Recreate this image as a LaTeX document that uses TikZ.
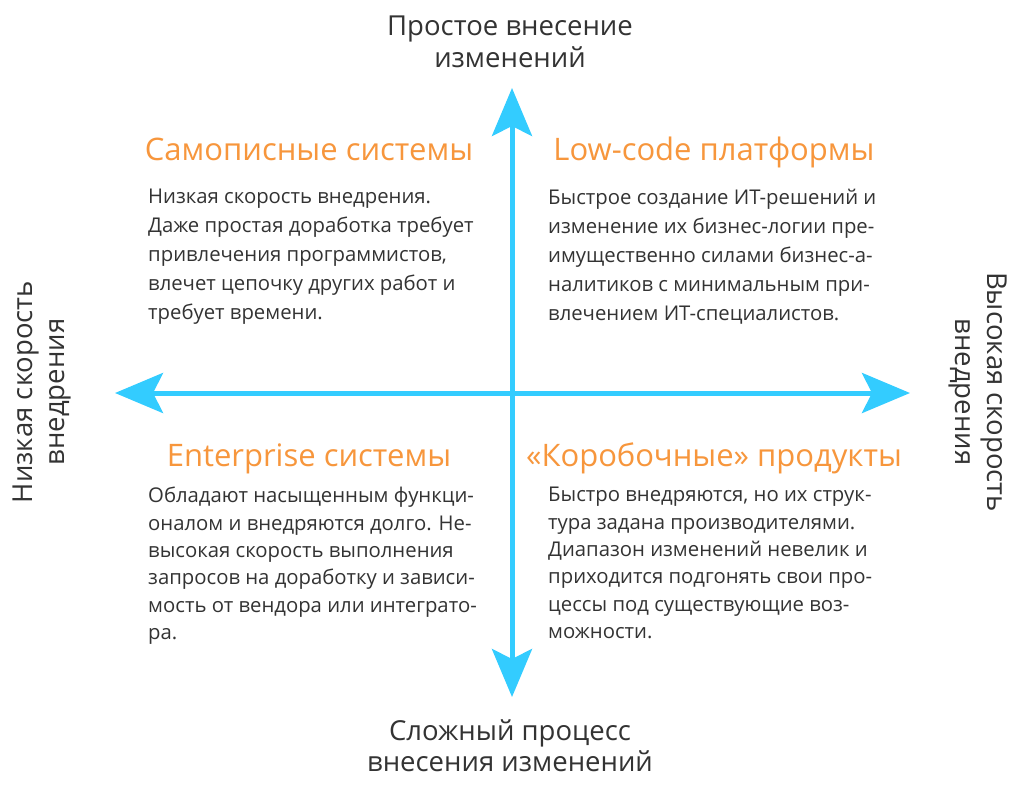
\documentclass[tikz,border=0pt]{standalone}
\usepackage{fontspec}
\setmainfont{Open Sans}
\usetikzlibrary{arrows.meta}
\definecolor{axisblue}{HTML}{33CCFF}
\definecolor{captionorange}{HTML}{F7963C}
\definecolor{bodygray}{HTML}{333333}

\begin{document}
\begin{tikzpicture}[x=1pt,y=-1pt,
    axis/.style={line width=5pt,draw=axisblue,
      {Stealth[length=48pt,width=40pt,inset=10pt]}-{Stealth[length=48pt,width=40pt,inset=10pt]}},
    caption/.style={text=captionorange,font=\captionfontsize,anchor=base,inner sep=0},
    quadtext/.style={text=bodygray,font=\textfontsize,align=left,anchor=north west,inner sep=0},
    lowquadtext/.style={quadtext,font=\lowtextfontsize},
    axislabel/.style={text=bodygray,font=\axisfontsize,align=center,inner sep=0}]
    \pgfmathsetmacro{\picwidth}{1020}
    \pgfmathsetmacro{\picheight}{788}
    \pgfmathsetmacro{\midx}{512}
    \pgfmathsetmacro{\midy}{393}
    \pgfmathsetmacro{\leftcol}{148}
    \pgfmathsetmacro{\rightcol}{548}
    \providecommand{\captionfontsize}{\fontsize{31}{34}\selectfont}
    \providecommand{\textfontsize}{\fontsize{20.3}{29}\selectfont}
    \providecommand{\lowtextfontsize}{\fontsize{20.3}{27.4}\selectfont}
    \providecommand{\axisfontsize}{\fontsize{27.5}{32}\selectfont}
    \fill[white] (0,0) rectangle (\picwidth,\picheight);
    \useasboundingbox (0,0) rectangle (\picwidth,\picheight);
    % axes
    \coordinate (axisL) at (115,\midy);
    \coordinate (axisR) at (910,\midy);
    \coordinate (axisT) at (\midx,88);
    \coordinate (axisB) at (\midx,697);
    \draw[axis] (axisL) -- (axisR);
    \draw[axis] (axisB) -- (axisT);
    % axis labels
    \node[axislabel,anchor=north] (top) at (510,16) {Простое внесение\\изменений};
    \node[axislabel,anchor=north] (bottom) at (510,719) {Сложный процесс\\внесения изменений};
    \node[axislabel,rotate=90] (left) at (42,392) {Низкая скорость\\внедрения};
    \node[axislabel,rotate=-90] (right) at (978,392) {Высокая скорость\\внедрения};
    % quadrants
    \node[caption] (selfmade) at (309,160) {Самописные системы};
    \node[quadtext] (selfmadetext) at (\leftcol,189) {Низкая скорость внедрения.\\
        Даже простая доработка требует\\
        привлечения программистов,\\
        влечет цепочку других работ и\\
        требует времени.};
    \node[caption] (lowcode) at (714,160) {Low-code платформы};
    \node[quadtext] (lowcodetext) at (\rightcol,189) {Быстрое создание ИТ-решений и\\
        изменение их бизнес-логии пре-\\
        имущественно силами бизнес-а-\\
        налитиков с минимальным при-\\
        влечением ИТ-специалистов.};
    \node[caption] (enterprise) at (309,466) {Enterprise системы};
    \node[lowquadtext] (enterprisetext) at (\leftcol,487) {Обладают насыщенным функци-\\
        оналом и внедряются долго. Не-\\
        высокая скорость выполнения\\
        запросов на доработку и зависи-\\
        мость от вендора или интеграто-\\
        ра.};
    \node[caption] (boxed) at (714,466) {«Коробочные» продукты};
    \node[lowquadtext] (boxedtext) at (\rightcol,487) {Быстро внедряются, но их струк-\\
        тура задана производителями.\\
        Диапазон изменений невелик и\\
        приходится подгонять свои про-\\
        цессы под существующие воз-\\
        можности.};
\end{tikzpicture}
\end{document}
